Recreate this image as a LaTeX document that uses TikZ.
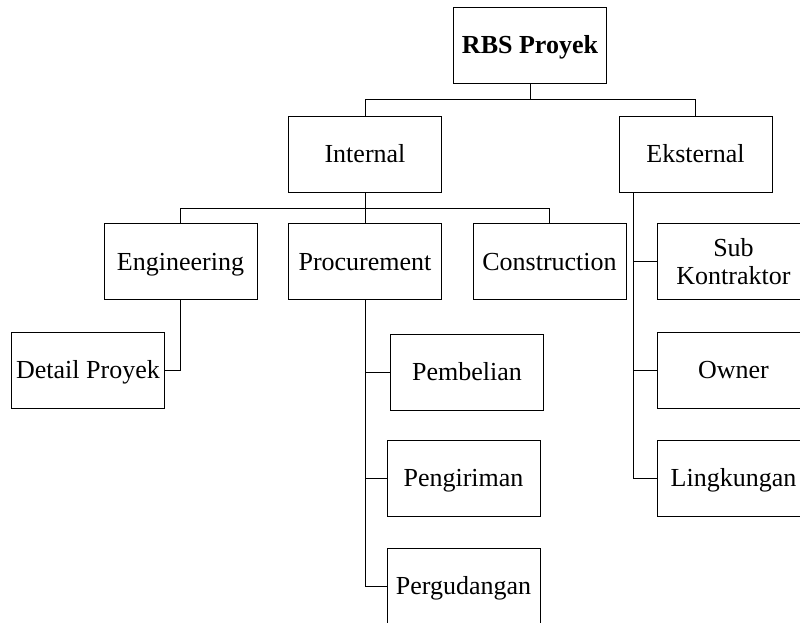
\documentclass[tikz,border=0pt]{standalone}
\usepackage{fontspec}
\setmainfont{Liberation Serif}
\usetikzlibrary{positioning}

\begin{document}
\begin{tikzpicture}[
  x=1pt, y=-1pt,
  font=\fontsize{26}{28}\selectfont,
  box/.style={draw, line width=0.8pt, align=center, inner sep=2pt, minimum width=153pt, minimum height=76pt,
    text height=17pt, text depth=0pt},
  link/.style={line width=0.8pt}
]
\useasboundingbox (0,0) rectangle (800,622);

% top levels
\node[box, font=\fontsize{26}{28}\selectfont\bfseries] (rbs) at (530,45) {RBS Proyek};
\node[box] (int) at (365,154) {Internal};
\node[box] (eks) at (695.5,154) {Eksternal};

% under Internal
\node[box] (eng) at (180.5,261.5) {Engineering};
\node[box] (pro) at (365,261.5) {Procurement};
\node[box] (con) at (549.5,261.5) {Construction};
\node[box] (det) at (88,370) {Detail Proyek};
\node[box] (pem) at (467,372) {Pembelian};
\node[box] (pgr) at (463.5,478) {Pengiriman};
\node[box] (pgd) at (463.5,586) {Pergudangan};

% under Eksternal
\node[box, text height=45pt] (sub) at (733.5,261.5) {Sub\\Kontraktor};
\node[box] (own) at (733.5,370) {Owner};
\node[box] (lin) at (733.5,478) {Lingkungan};

\draw[link] (rbs.south) -- ++(0,16) -| (int.north);
\draw[link] (rbs.south) ++(0,16) -| (eks.north);

\draw[link] (int.south) -- ++(0,16) -| (eng.north);
\draw[link] (int.south) ++(0,16) -| (con.north);
\draw[link] (int.south) -- (pro.north);

\draw[link] (eng.south) |- (det.east);
\foreach \c in {pem,pgr,pgd}
  \draw[link] (pro.south) |- (\c.west);

\coordinate (ek) at ([xshift=15pt]eks.south west);
\foreach \c in {sub,own,lin}
  \draw[link] (ek) |- (\c.west);
\end{tikzpicture}
\end{document}
